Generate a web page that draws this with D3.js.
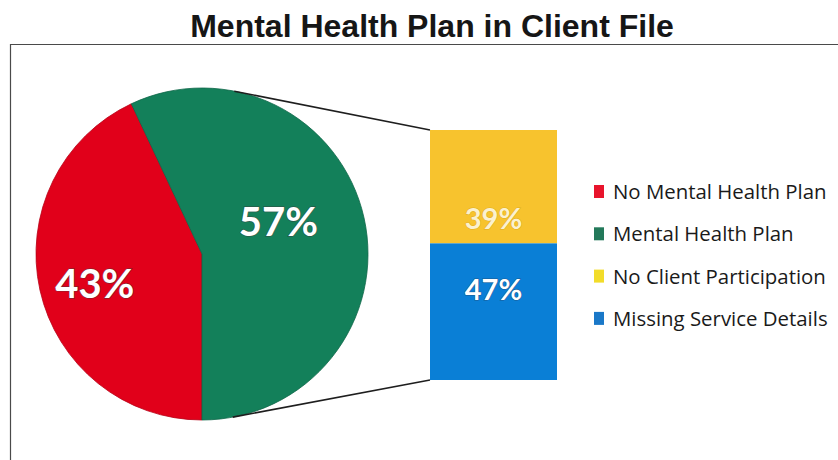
<!DOCTYPE html>
<html>
<head>
<meta charset="utf-8">
<script src="https://cdn.jsdelivr.net/npm/d3@7"></script>
<style>
  html, body { margin: 0; padding: 0; background: #fff; }
  svg { display: block; }
</style>
</head>
<body>
<svg id="chart" width="838" height="460"></svg>
<script>
// Pie: share of client files with / without a mental health plan
const pieCategories = ["No Mental Health Plan", "Mental Health Plan"];
const pieValues = [43, 57];
const pieColors = ["#e1001a", "#13805a"];

// Breakdown bar for the split-out slice
const barCategories = ["No Client Participation", "Missing Service Details"];
const barValues = [39, 47];
const barColors = ["#f7c32e", "#0a7fd6"];

const legendLabels = pieCategories.concat(barCategories);
const legendColors = ["#e8142c", "#23795a", "#f2dc2a", "#1a78c8"];

const title = "Mental Health Plan in Client File";

const W = 838, H = 460;
const svg = d3.select("#chart");

// Title
svg.append("text")
  .attr("x", 432).attr("y", 37)
  .attr("text-anchor", "middle")
  .attr("font-family", "'Liberation Sans', Arial, sans-serif")
  .attr("font-weight", "bold")
  .attr("font-size", 32)
  .attr("fill", "#161616")
  .text(title);

// Frame of the plot area (open to the right and bottom)
svg.append("path")
  .attr("d", `M10.5,${H} L10.5,44.5 L${W},44.5`)
  .attr("fill", "none")
  .attr("stroke", "#4a4a4a")
  .attr("stroke-width", 1.2);

// ---- Pie ----
const cx = 202, cy = 254, R = 166;
const pie = d3.pie().sort(null).value(d => d)
  .startAngle(Math.PI).endAngle(3 * Math.PI);
const arcs = pie(pieValues);
const arc = d3.arc().innerRadius(0).outerRadius(R);

const gPie = svg.append("g").attr("transform", `translate(${cx},${cy})`);
gPie.selectAll("path.slice")
  .data(arcs)
  .enter().append("path")
  .attr("class", "slice")
  .attr("d", arc)
  .attr("fill", (d, i) => pieColors[i])
  .attr("stroke", (d, i) => d3.color(pieColors[i]).darker(0.6))
  .attr("stroke-width", 0.8);

// Label placement inside each slice: radius fraction and angular nudge
const labelPlacement = [
  { r: 0.67, turn: -0.05 },
  { r: 0.50, turn: -0.18 }
];
gPie.selectAll("text.pct")
  .data(arcs)
  .enter().append("text")
  .attr("class", "pct")
  .attr("transform", (d, i) => {
    const p = labelPlacement[i];
    const a = (d.startAngle + d.endAngle) / 2 + p.turn;
    const rr = R * p.r;
    return `translate(${rr * Math.sin(a)},${-rr * Math.cos(a)})`;
  })
  .attr("text-anchor", "middle")
  .attr("dy", "0.36em")
  .attr("font-family", "Lato, 'Open Sans', sans-serif")
  .attr("font-weight", "bold")
  .attr("font-size", 40)
  .attr("fill", "#ffffff")
  .attr("stroke", "rgba(60,60,60,0.55)")
  .attr("stroke-width", 1.4)
  .attr("paint-order", "stroke")
  .text(d => d.data + "%");

// ---- Stacked breakdown bar ----
const barX0 = 430, barX1 = 557, barTop = 130, barBottom = 380;
const y = d3.scaleLinear().domain([0, d3.sum(barValues)]).range([barTop, barBottom]);
const stackData = barValues.map((v, i) => {
  const before = d3.sum(barValues.slice(0, i));
  return { value: v, y0: before, y1: before + v, i };
});

const gBar = svg.append("g");
gBar.selectAll("rect")
  .data(stackData)
  .enter().append("rect")
  .attr("x", barX0)
  .attr("width", barX1 - barX0)
  .attr("y", d => y(d.y0))
  .attr("height", d => y(d.y1) - y(d.y0))
  .attr("fill", d => barColors[d.i]);

// Labels sit near the boundary between the two segments
const barLabelPos = [0.78, 0.34];
const barLabelFill = ["#fbf1cf", "#ffffff"];
const barLabelStroke = ["rgba(200,150,20,0.5)", "rgba(40,60,90,0.6)"];
gBar.selectAll("text")
  .data(stackData)
  .enter().append("text")
  .attr("x", (barX0 + barX1) / 2)
  .attr("y", d => y(d.y0 + d.value * barLabelPos[d.i]))
  .attr("dy", "0.36em")
  .attr("text-anchor", "middle")
  .attr("font-family", "Lato, 'Open Sans', sans-serif")
  .attr("font-weight", "bold")
  .attr("font-size", 29)
  .attr("fill", d => barLabelFill[d.i])
  .attr("stroke", d => barLabelStroke[d.i])
  .attr("stroke-width", 1.1)
  .attr("paint-order", "stroke")
  .text(d => d.value + "%");

// ---- Connector lines: tangents from the pie to the bar corners ----
function tangent(px, py, sign) {
  const dx = px - cx, dy = py - cy;
  const d = Math.hypot(dx, dy);
  const phi = Math.atan2(dy, dx);
  const alpha = Math.acos(R / d);
  const t = phi + sign * alpha;
  return [cx + R * Math.cos(t), cy + R * Math.sin(t)];
}
const corners = [[barX0, barTop, -1], [barX0, barBottom, 1]];
svg.append("g").selectAll("line")
  .data(corners)
  .enter().append("line")
  .attr("x1", d => tangent(d[0], d[1], d[2])[0])
  .attr("y1", d => tangent(d[0], d[1], d[2])[1])
  .attr("x2", d => d[0])
  .attr("y2", d => d[1])
  .attr("stroke", "#1e1e1e")
  .attr("stroke-width", 1.6);

// ---- Legend ----
const legend = svg.append("g").attr("transform", "translate(594,192)");
const rowStep = 42.3;
const rows = legend.selectAll("g")
  .data(legendLabels)
  .enter().append("g")
  .attr("transform", (d, i) => `translate(0,${i * rowStep})`);
rows.append("rect")
  .attr("x", 0).attr("y", -7)
  .attr("width", 10).attr("height", 13)
  .attr("fill", (d, i) => legendColors[i]);
rows.append("text")
  .attr("x", 19).attr("y", 0)
  .attr("dy", "0.35em")
  .attr("font-family", "'Open Sans', sans-serif")
  .attr("font-size", 20.4)
  .attr("fill", "#1a1a1a")
  .text(d => d);
</script>
</body>
</html>
